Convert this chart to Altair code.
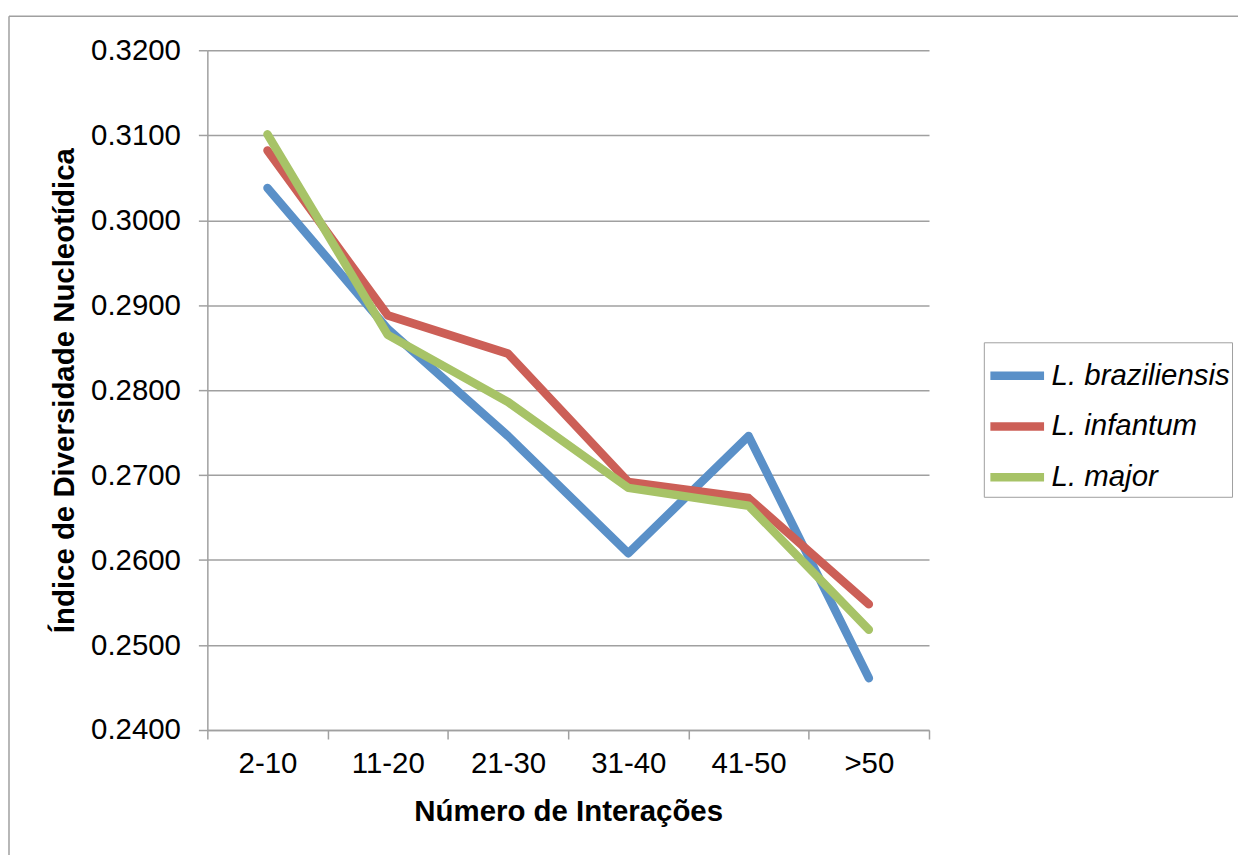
import altair as alt
import pandas as pd

categories = ["2-10", "11-20", "21-30", "31-40", "41-50", ">50"]
series_names = ["L. braziliensis", "L. infantum", "L. major"]
braziliensis = [0.3038, 0.2872, 0.2746, 0.2608, 0.2746, 0.2461]
infantum = [0.3082, 0.2888, 0.2843, 0.2692, 0.2673, 0.2548]
major = [0.3101, 0.2865, 0.2786, 0.2685, 0.2664, 0.2518]
y_ticks = [0.24, 0.25, 0.26, 0.27, 0.28, 0.29, 0.30, 0.31, 0.32]
colors = ["#5a90c8", "#cc5f57", "#a7c367"]

rows = []
for name, vals in zip(series_names, [braziliensis, infantum, major]):
    for c, v in zip(categories, vals):
        rows.append({"cat": c, "value": v, "series": name})
df = pd.DataFrame(rows)

FONT = "Liberation Sans"
GRID = "#a0a0a0"
FS = 29.5

one = pd.DataFrame({"a": [0]})
frame_top = alt.Chart(one).mark_rule(stroke=GRID, strokeWidth=1.5).encode(
    x=alt.value(-199), x2=alt.value(1100), y=alt.value(-34)
)
frame_left = alt.Chart(one).mark_rule(stroke=GRID, strokeWidth=1.5).encode(
    x=alt.value(-199), y=alt.value(-34), y2=alt.value(900)
)

lines = alt.Chart(df).mark_line(
    strokeWidth=8.5, strokeCap="round", strokeJoin="round"
).encode(
    x=alt.X("cat:N", sort=categories,
            scale=alt.Scale(type="band", paddingInner=0, paddingOuter=0),
            axis=alt.Axis(title="Número de Interações", labelAngle=0,
                          tickBand="extent", grid=False,
                          domainColor=GRID, domainWidth=1.5,
                          tickColor=GRID, tickWidth=1.5, tickSize=9,
                          labelFont=FONT, labelFontSize=FS, labelColor="#000",
                          labelPadding=11,
                          titleFont=FONT, titleFontSize=FS, titleFontWeight="bold",
                          titleColor="#000", titleX=362, titleY=82,
                          titleAlign="center", titleBaseline="middle")),
    y=alt.Y("value:Q",
            scale=alt.Scale(domain=[0.24, 0.32], nice=False, zero=False),
            axis=alt.Axis(title="Índice de Diversidade Nucleotídica",
                          values=y_ticks, format=".4f",
                          grid=True, gridColor=GRID, gridWidth=1.5,
                          domainColor=GRID, domainWidth=1.5,
                          tickColor=GRID, tickWidth=1.5, tickSize=9,
                          labelFont=FONT, labelFontSize=FS, labelColor="#000",
                          labelPadding=18,
                          titleFont=FONT, titleFontSize=FS, titleFontWeight="bold",
                          titleColor="#000", titleX=-143, titleY=341,
                          titleAngle=270, titleAlign="center", titleBaseline="middle")),
    color=alt.Color("series:N", sort=series_names,
                    scale=alt.Scale(domain=series_names, range=colors),
                    legend=alt.Legend(title=None, orient="none",
                                      legendX=779, legendY=293,
                                      symbolType="stroke", symbolSize=2900,
                                      symbolStrokeWidth=8.5,
                                      strokeColor=GRID, padding=2,
                                      rowPadding=2, labelOffset=3,
                                      labelFont=FONT, labelFontSize=FS,
                                      labelFontStyle="italic", labelColor="#000",
                                      labelLimit=400)),
    order=alt.Order("series:N")
)

chart = alt.layer(frame_top, frame_left, lines).properties(
    width=724, height=682,
    autosize=alt.AutoSizeParams(type="none"),
    padding={"left": 200, "top": 41, "right": 310, "bottom": 124},
    background="white"
).configure_view(stroke=None)

chart.save("out.html", embed_options={"renderer": "svg", "actions": False})
